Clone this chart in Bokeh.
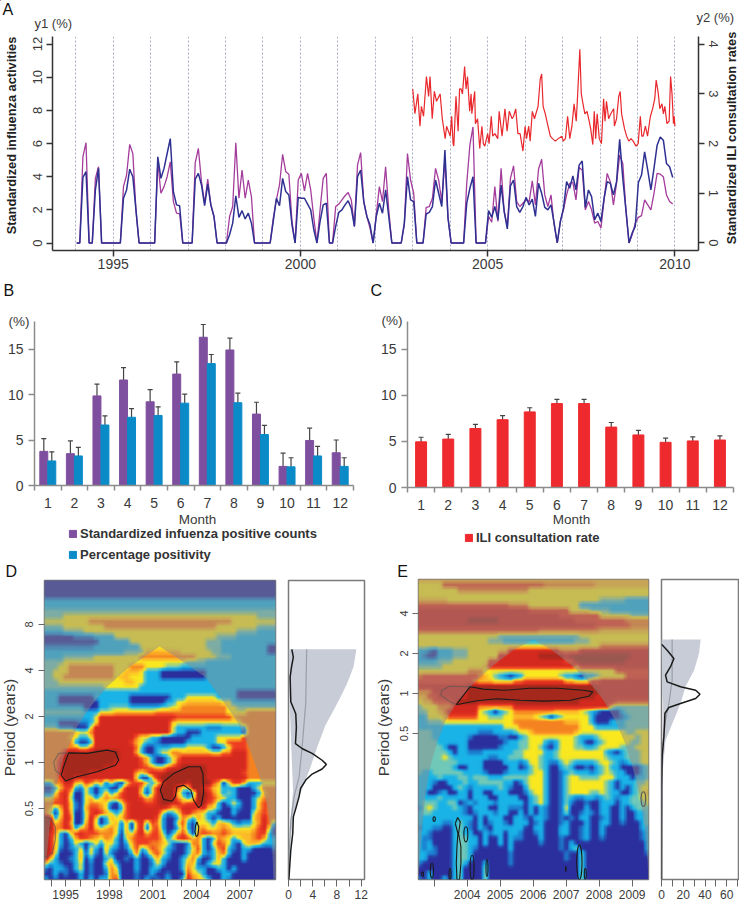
import math
import numpy as np
from bokeh.embed import file_html
from bokeh.resources import INLINE
from bokeh.layouts import column, row
from bokeh.models import (ColumnDataSource, FixedTicker, Label, Legend, LegendItem, LinearAxis, LinearColorMapper,
                          Range1d, TeeHead, Whisker)
from bokeh.plotting import figure

FONT = "Liberation Sans"

# ---------- Panel A ----------
a_years = list(range(1994, 2011))
a_purple = [
    0, 0, 5.2, 6.05, 0, 0, 3.9, 4.6, 0, 0, 0, 0,
    0, 0, 0, 3.4, 4.1, 5.95, 5.4, 2, 0, 0, 0, 0,
    0, 0, 4.9, 3.0, 3.4, 4.0, 4.9, 2.5, 1.8, 1.75, 0, 0,
    0, 0, 4.85, 5.7, 3.7, 2.4, 3.85, 2.3, 1.6, 0, 0, 0,
    0, 1.6, 2.2, 6.05, 2.7, 4.4, 2.7, 3.8, 2.8, 0, 0, 0,
    0, 0, 0, 1.5, 2.6, 3.5, 5.35, 4.3, 4.15, 1.3, 0, 3.8,
    4.2, 3.15, 4.2, 3.2, 1.5, 0, 2.0, 3.9, 4.2, 0, 0, 2.2,
    2.35, 2.6, 2.85, 3.05, 2.6, 1.0, 4.7, 5.45, 2.5, 1.6, 0.9, 0,
    1.7, 3.4, 2.5, 4.6, 2.0, 0, 0, 0, 0, 1.1, 5.4, 3.8,
    3.0, 0, 0, 0, 2.15, 2.2, 2.7, 4.5, 3.8, 2.5, 5.0, 1.5,
    0, 0, 0, 0, 0, 3.6, 5.9, 7.0, 0, 0, 0, 0,
    1.6, 1.25, 3.4, 1.3, 4.5, 1.9, 1.0, 3.9, 4.65, 2.5, 2.2, 2.4,
    2.6, 2.5, 3.75, 2.3, 4.45, 5.05, 2.9, 2.2, 2.9, 1.1, 0, 1.3,
    2.0, 2.9, 3.6, 3.65, 2.6, 4.55, 4.4, 2.0, 2.5, 2.0, 1.2, 1.3,
    0.9, 2.6, 4.2, 3.7, 2.3, 3.6, 5.3, 4.8, 2.0, 0, 0.5, 1.2,
    1.55, 1.65, 2.6, 2.3, 2.0, 3.0, 4.2, 4.15, 4.0, 2.9, 2.5, 2.35]
a_blue = [
    0, 0, 3.95, 4.3, 0, 0, 3.2, 4.5, 0, 0, 0, 0,
    0, 0, 0, 2.7, 3.2, 4.45, 4.0, 2, 0, 0, 0, 0,
    0, 0, 5.2, 3.9, 4.5, 5.4, 6.3, 3.1, 2.3, 2.25, 0, 0,
    0, 0, 3.85, 4.2, 3.5, 2.25, 3.55, 2.3, 1.6, 0, 0, 0,
    0, 0.5, 1.2, 2.85, 1.55, 1.95, 1.45, 1.8, 1.2, 0, 0, 0,
    0, 0, 0, 1.3, 2.7, 2.25, 3.9, 3.1, 2.9, 1.1, 0, 2.75,
    2.7, 2.7, 2.35, 2.0, 0.8, 0, 1.3, 2.3, 2.4, 0, 0, 1.0,
    1.85, 2.0, 2.3, 2.55, 2.1, 1.0, 4.0, 4.4, 2.5, 1.6, 1.1, 0,
    1.6, 2.4, 1.8, 3.2, 1.6, 0, 0, 0, 0, 1.2, 4.0, 2.6,
    2.5, 0, 0, 0, 1.75, 1.85, 2.2, 3.8, 3.0, 2.2, 5.6, 1.5,
    0, 0, 0, 0, 0, 2.4, 3.3, 4.0, 0, 0, 0, 0,
    1.95, 1.55, 2.2, 1.4, 3.5, 1.9, 0.85, 3.45, 3.8, 2.2, 1.85, 2.2,
    2.75, 2.3, 2.65, 1.6, 3.6, 3.0, 2.15, 2.0, 2.3, 1.2, 0, 1.3,
    2.1, 3.7, 3.3, 4.05, 3.2, 4.7, 4.95, 2.15, 3.2, 2.8, 1.4, 1.8,
    1.3, 2.7, 3.7, 3.6, 2.9, 3.7, 6.25, 3.9, 2.0, 0, 0.6, 1.0,
    3.65, 4.1, 5.5, 4.4, 3.2, 4.5, 5.9, 6.4, 6.2, 4.8, 4.6, 3.95]
red_week = [0, 3, 7, 10, 12, 15, 19, 22, 24, 27, 30, 33, 38, 41, 45, 47, 52, 54, 56, 57, 60, 63, 65, 67, 69, 72, 74,
            76, 79, 81, 82, 86, 87, 90, 93, 96, 98, 100, 104, 106, 109, 111, 114, 118, 120, 124, 128, 131, 134, 138,
            140, 143, 146, 149, 153, 156, 158, 161, 163, 166, 169, 171, 174, 177, 179, 181, 184, 187, 191, 194, 198,
            202, 207, 209, 212, 215, 218, 221, 224, 227, 229, 232, 234, 237, 239, 242, 245, 247, 250, 252, 254, 256,
            259, 262, 265, 267, 269, 272, 275, 279, 280, 283, 286, 288, 290, 294, 297, 300, 303, 306, 310, 313, 316,
            318, 320, 323, 326, 330, 333, 336, 338, 341, 343, 346, 348, 350, 353, 356, 358, 360, 362, 363, 364]
red_rate = [3.1, 2.6, 3.0, 2.35, 2.75, 2.55, 3.35, 2.95, 3.35, 2.5, 3.05, 2.85, 3.0, 2.5, 2.1, 2.35, 2.15, 2.55, 2.0,
            1.95, 2.95, 2.25, 3.1, 3.1, 3.0, 3.55, 3.1, 3.35, 2.65, 3.0, 2.6, 3.05, 2.4, 2.5, 1.9, 2.35, 2.0, 1.95,
            2.2, 2.0, 2.55, 2.15, 2.2, 2.1, 2.65, 2.15, 2.7, 2.25, 2.65, 2.5, 2.55, 2.7, 2.2, 2.2, 1.85, 2.35, 2.1,
            2.35, 2.05, 2.65, 2.5, 2.6, 2.75, 3.3, 3.4, 2.75, 2.6, 2.4, 2.15, 2.1, 2.05, 2.1, 2.15, 2.05, 2.1, 2.55,
            2.1, 2.35, 2.8, 2.45, 3.0, 3.9, 3.0, 2.75, 2.6, 2.65, 2.45, 2.3, 1.98, 2.65, 2.1, 2.6, 2.1, 2.0, 2.9,
            2.45, 2.85, 2.5, 2.6, 2.7, 2.35, 2.5, 2.95, 3.05, 2.6, 2.3, 2.15, 2.05, 2.1, 2.05, 1.95, 2.0, 2.55, 2.15,
            2.15, 2.35, 2.15, 2.55, 2.7, 2.9, 3.28, 3.0, 2.7, 2.8, 2.6, 2.75, 2.4, 2.45, 3.35, 3.0, 2.4, 2.55, 2.35]
a_ticks_y1 = [0, 2, 4, 6, 8, 10, 12]
a_ticks_y2 = [0, 1, 2, 3, 4]
a_ticks_x = [1995, 2000, 2005, 2010]

# ---------- Panels B, C ----------
months = list(range(1, 13))
b_counts = [3.75, 3.5, 9.85, 11.6, 9.2, 12.25, 16.3, 14.9, 7.85, 2.1, 4.95, 3.6]
b_counts_up = [5.15, 4.9, 11.15, 12.95, 10.55, 13.6, 17.7, 16.2, 9.15, 3.55, 6.3, 5.0]
b_counts_lo = [2.35, 2.1, 8.5, 10.25, 7.85, 10.9, 14.9, 13.55, 6.5, 0.7, 3.6, 2.2]
b_pct = [2.7, 3.25, 6.65, 7.5, 7.7, 9.05, 13.4, 9.1, 5.6, 2.05, 3.25, 2.1]
b_pct_up = [3.7, 4.2, 7.65, 8.45, 8.65, 10.05, 14.4, 10.15, 6.6, 3.05, 4.3, 3.05]
b_pct_lo = [1.7, 2.3, 5.65, 6.55, 6.75, 8.05, 12.4, 8.05, 4.6, 1.05, 2.2, 1.15]
c_ili = [4.95, 5.25, 6.4, 7.35, 8.2, 9.1, 9.1, 6.55, 5.7, 4.9, 5.05, 5.15]
c_ili_up = [5.45, 5.75, 6.85, 7.8, 8.65, 9.55, 9.55, 7.05, 6.2, 5.35, 5.5, 5.6]
c_ili_lo = [4.45, 4.75, 5.95, 6.9, 7.75, 8.65, 8.65, 6.05, 5.2, 4.45, 4.6, 4.7]
bar_ticks_y = [0, 5, 10, 15]

# ---------- Panels D, E: wavelet power classes, top row first ----------
heat_palette = ["#2b2f9e", "#1c7fd0", "#19b4e8", "#6fc8b8", "#f9e820", "#fdb92a", "#f58220", "#ee3d23", "#d62a1f",
                "#a5281c"]
d_rows = [
    "0" * 46, "0" * 46, "0" * 46, "0" * 46, "2" * 46, "2" * 46, "3" * 46,
    "3" * 4 + "4" * 38 + "3" * 4,
    "4" * 9 + "6" * 28 + "4" * 9,
    "3" * 4 + "4" * 8 + "6" * 22 + "4" * 8 + "3" * 4,
    "2" * 4 + "3" * 4 + "4" * 30 + "3" * 4 + "2" * 4,
    "0" * 6 + "1" * 4 + "2" * 4 + "4" * 20 + "3" * 4 + "2" * 8,
    "0" * 11 + "2" * 6 + "4" * 15 + "3" * 3 + "2" * 11,
    "1" * 10 + "2" * 9 + "4" * 13 + "3" * 3 + "2" * 9 + "0" * 2,
    "2" * 16 + "3" * 4 + "5" * 7 + "4" * 6 + "3" * 2 + "2" * 9 + "0" * 2,
    "2" * 4 + "3" * 6 + "4" * 9 + "6" * 8 + "6" * 3 + "4" * 4 + "3" * 3 + "2" * 9,
    "3" * 4 + "4" * 24 + "3" * 4 + "2" * 14,
    "3" * 3 + "4" * 2 + "6" * 9 + "4" * 3 + "6" * 3 + "4" * 4 + "3" * 3 + "2" * 19,
    "3" * 2 + "4" * 3 + "6" * 9 + "4" * 2 + "5" * 3 + "4" + "2" * 3 + "0" * 9 + "2" * 14,
    "3" * 2 + "4" * 2 + "6" * 10 + "4" + "5" * 2 + "4" * 3 + "2" * 3 + "0" * 9 + "2" * 14,
    "3" * 3 + "4" * 9 + "4" * 4 + "5" * 2 + "4" * 2 + "2" * 26,
    "3" * 12 + "4" * 7 + "2" * 27,
    "2" * 38 + "0" * 8,
    "2" * 3 + "0" * 7 + "2" * 7 + "0" * 8 + "2" * 3 + "4" * 6 + "2" * 4 + "0" * 8,
    "2" * 3 + "0" * 8 + "2" * 6 + "0" * 7 + "2" * 2 + "4" * 2 + "5" * 7 + "4" * 2 + "2" * 9,
    "2" * 8 + "0" * 3 + "2" * 2 + "3" * 4 + "2" * 6 + "3" * 2 + "4" * 2 + "6" * 9 + "4" * 2 + "3" * 8,
    "3" * 8 + "2" * 3 + "4" * 3 + "5" * 8 + "6" * 14 + "4" * 4 + "6" * 6,
    "2" * 10 + "4" + "8" * 15 + "7" * 11 + "5" + "6" * 8,
    "2" * 3 + "0" * 4 + "1" * 2 + "2" + "4" + "8" * 14 + "5" + "4" * 13 + "6" * 7,
    "3" * 3 + "1" * 3 + "0" * 3 + "4" + "8" * 15 + "4" + "2" * 6 + "1" * 3 + "2" * 5 + "6" * 6,
    "6" * 5 + "6" + "5" + "4" + "4" + "6" + "8" * 15 + "4" + "2" * 2 + "0" * 3 + "2" * 8 + "0" + "6" * 6,
    "6" * 5 + "5" + "4" + "2" * 2 + "4" + "8" * 8 + "6" + "4" * 2 + "2" * 2 + "0" * 6 + "2" * 5 + "4" * 5 + "7" + "6" * 6,
    "6" * 6 + "2" + "0" * 2 + "2" + "8" * 7 + "7" + "5" + "4" + "2" * 2 + "1" + "0" * 5 + "2" * 6 + "4" * 2 + "7" * 4 + "6" * 6,
    "6" * 7 + "4" + "4" + "6" + "8" * 8 + "6" + "2" + "0" * 2 + "2" * 3 + "3" * 3 + "4" * 4 + "2" + "0" * 2 + "2" + "4" + "7" * 3 + "6" * 6,
    "6" * 4 + "8" + "9" * 10 + "8" * 3 + "5" + "2" + "0" * 2 + "2" + "4" * 2 + "6" * 2 + "5" * 6 + "4" * 2 + "6" * 2 + "8" * 3 + "6" * 6,
    "6" * 3 + "7" + "9" * 11 + "8" * 4 + "6" + "5" + "2" + "0" * 2 + "2" + "4" + "6" + "8" * 13 + "6" * 6,
    "6" * 3 + "8" + "9" * 10 + "8" * 5 + "7" + "5" + "2" + "0" * 2 + "2" + "4" + "7" + "8" * 13 + "6" * 6,
    "6" * 3 + "8" + "9" * 8 + "8" * 7 + "7" * 2 + "6" + "5" * 2 + "7" + "8" * 2 + "9" * 5 + "8" * 8 + "6" * 6,
    "6" * 3 + "8" + "9" * 5 + "8" * 9 + "5" + "4" + "6" + "8" * 3 + "9" * 8 + "8" * 7 + "7" + "6" * 6,
    "6" * 3 + "7" + "9" * 2 + "8" * 12 + "4" + "0" * 2 + "4" + "8" + "9" * 9 + "8" * 8 + "6" * 6,
    "2" * 2 + "6" * 2 + "8" * 2 + "5476451410" + "4" + "7" * 3 + "4" + "2" + "4" + "8" + "9" * 4 + "8" + "9" * 4 + "7" + "5" + "0" + "4" + "7" * 2 + "5" + "2" * 3 + "4" * 4,
    "0025772142" "0220048885" "1489997449" "9875422200" "024666",
    "1147850042" "0252478884" "0489995202" "9986423200" "002566",
    "4467840045" "2465678887" "5689996424" "9987542200" "024666",
    "6677851046" "6541047888" "7789988677" "9976202420" "025766",
    "6525851057" "7640027888" "8888756888" "7854200210" "025766",
    "6404860047" "8754247888" "8884124786" "5422000200" "046766",
    "9925870048" "5025457888" "8872002642" "5420200000" "056866",
    "9956860058" "4024515068" "2762004720" "4442554212" "246862",
    "9966872568" "5456415068" "0672002620" "5644565444" "457840",
    "9862047877" "7666405478" "5774025740" "6776676555" "567720",
    "9852025776" "5465204677" "7775247875" "6202654245" "567522",
    "9852014202" "4244202577" "7665410016" "6204764104" "554222",
    "9851012404" "2052101472" "4764210024" "7202672102" "200001",
    "9840002514" "1041000260" "2574200025" "6212562002" "000000",
    "9520012502" "0024001020" "0252100246" "2002520002" "000000",
    "4221002401" "0045200020" "0142000255" "1024420000" "000000",
    "1022102401" "0026400020" "0220000264" "2200220200" "000000",
    "0020100201" "0016500010" "0200100075" "4200022000" "000000",
    "2010000202" "0226700010" "2010200286" "5420021000" "000000",
]
e_rows = [
    "5" * 46,
    "4" * 5 + "7" * 20 + "6" * 10 + "5" * 11,
    "4" * 8 + "6" * 14 + "4" * 24,
    "4" * 46,
    "5" * 6 + "4" * 30 + "3" * 5 + "2" * 5,
    "7" * 18 + "6" * 4 + "4" * 10 + "2" * 14,
    "8" * 22 + "7" * 8 + "4" * 4 + "3" * 4 + "2" * 8,
    "8" * 28 + "7" * 8 + "4" * 6 + "3" * 4,
    "8" * 10 + "9" * 6 + "8" * 15 + "7" * 10 + "6" * 5,
    "8" * 35 + "7" * 7 + "6" * 4,
    "7" * 24 + "6" * 12 + "5" * 10,
    "4" * 16 + "3" * 16 + "4" * 14,
    "4" * 14 + "3" * 3 + "2" * 14 + "3" * 3 + "4" * 12,
    "4" * 34 + "4" * 2 + "6" * 10,
    "2" * 2 + "1" + "0" + "2" * 3 + "3" * 3 + "4" * 6 + "5" * 2 + "8" * 10 + "6" * 4 + "8" * 14,
    "2100222333" + "4" * 6 + "8" * 8 + "9" * 5 + "8" + "9" * 12 + "8" * 4,
    "2" * 4 + "3" * 3 + "4" * 7 + "7" * 2 + "8" * 13 + "7" * 2 + "9" * 10 + "8" * 5,
    "3" * 5 + "4" * 8 + "5" + "8" * 17 + "6" + "8" * 14,
    "4" * 10 + "6" * 3 + "4" * 19 + "4" * 7 + "7" * 7,
    "6777777777" "776543" "21012" "4444444" "3" "221022" "3" "4444477777",
    "7" * 11 + "6" + "5" * 3 + "4" * 4 + "6" * 2 + "7" * 8 + "5" * 2 + "4" * 3 + "7" * 2 + "8" * 10,
    "8" * 10 + "9" * 25 + "8" * 11,
    "6" * 3 + "8" * 7 + "9" * 26 + "8" * 10,
    "5" * 2 + "7" * 2 + "8" * 6 + "9" * 25 + "8" * 11,
    "4" + "5" * 2 + "7" * 4 + "8" + "9" * 24 + "8" * 7 + "7" * 7,
    "3444666" + "8" * 5 + "6" * 7 + "8" * 19 + "4" + "3" * 7,
    "334456" + "8" * 6 + "4320234" + "6" * 8 + "5" * 5 + "432" + "1" + "0" * 4 + "2" + "3" * 5,
    "224445" "777777" "4433344" "5555" "4320234" "4444" "2" "00000" "1" "2" "3333",
    "22333" + "4" * 14 + "6" * 10 + "5" * 3 + "4" * 2 + "2" + "0" * 3 + "2" * 3 + "3" * 5,
    "2" * 5 + "2" * 12 + "4" * 3 + "6" * 12 + "4" * 3 + "2" * 6 + "3" * 5,
    "3332222222" "2211122223" "4456666666" "6544444444" "433444",
    "3332222222" "1000001100" "2344444444" "4322234444" "444344",
    "3333222222" "0000000122" "3344421244" "4320023444" "443344",
    "3333320022" "0000001222" "3344310244" "4332234444" "333444",
    "3333332022" "1112222223" "3444422344" "4444444210" "233344",
    "3333343222" "2222112233" "3444322344" "4444444322" "233344",
    "3333333322" "2220000222" "1244321134" "3222234432" "123344",
    "3333333200" "2220000022" "0134320023" "2001023422" "000023",
    "3223333332" "2221000122" "2234420012" "3222123432" "200023",
    "2222322233" "2333222333" "3344420013" "4433334442" "220223",
    "2221002223" "2233333220" "1344420013" "4444444320" "222334",
    "2220000232" "1222223210" "0244420013" "4444444320" "202344",
    "2200120022" "0220022200" "0134420013" "4444334322" "002345",
    "2222322222" "0222002222" "0023420013" "2112212321" "223344",
    "2333223301" "2122212222" "2023420013" "1001002220" "223334",
    "1343222321" "0222002211" "1020210014" "0002002200" "202333",
    "2332222221" "0122212200" "2020210013" "0012102200" "200223",
    "2222222222" "2020222002" "2102210010" "1022001200" "200223",
    "2222211232" "1020122102" "2201200012" "0002002200" "100023",
    "1221100232" "1021022222" "2002200022" "0012002000" "000022",
    "2210000232" "2002122022" "1001200022" "0012002000" "000012",
    "2110000233" "2202002021" "1000200010" "0012001000" "000012",
    "2120000233" "2202002020" "0000100010" "2000000000" "000002",
    "2121000233" "2100000020" "0000000010" "2300000000" "000002",
    "2211000233" "2000000010" "0000000001" "0030000000" "000001",
    "2200000233" "2000000010" "0000000001" "0030000000" "000000",
    "1000000232" "0002000010" "0000000000" "0030000000" "000000",
    "0000000230" "0003000000" "0000000000" "0030000000" "000000",
    "0020000230" "0003000000" "0000000000" "0030000000" "000000",
    "1020020230" "0003000000" "0000000000" "0030000000" "000000",
]

# cone of influence, (year, log2 period), left foot to apex to right foot
d_cone_x = [1993.55, 1993.72, 1993.94, 1994.29, 1994.52, 1994.86, 1995.2, 1995.78, 1996.7, 1997.84, 1999.22, 2001.47,
            2002.89, 2004.61, 2005.87, 2006.9, 2007.7, 2008.28, 2008.85, 2009.2, 2009.31]
d_cone_y = [-2.54, -1.97, -1.25, -0.6, -0.31, 0.12, 0.34, 0.77, 1.21, 1.64, 2.04, 2.52,
            2.23, 1.86, 1.32, 0.85, 0.27, -0.24, -0.89, -1.61, -2.54]
e_cone_x = [2002.53, 2002.56, 2002.63, 2002.73, 2002.88, 2003.08, 2003.33, 2003.69, 2004.19, 2004.8, 2005.4, 2006.01,
            2006.57, 2007.22, 2007.73, 2008.13, 2008.48, 2008.79, 2009.04, 2009.24, 2009.39, 2009.47, 2009.49]
e_cone_y = [-4.65, -4.25, -3.42, -2.58, -1.83, -1.25, -0.71, -0.21, 0.25, 0.71, 1.08, 1.35,
            1.08, 0.67, 0.25, -0.17, -0.67, -1.25, -1.92, -2.58, -3.42, -4.25, -4.65]

# significance contours
d_sig_x = [[1995.2, 1996.47, 1997.84, 1998.42, 1998.65, 1998.42, 1997.16, 1995.78, 1994.98, 1994.7, 1994.86, 1995.2],
           [2001.51, 2001.74, 2002.43, 2003.46, 2004.27, 2004.45, 2004.5, 2004.33, 2004.15, 2003.81, 2003.62, 2003.12,
            2002.66, 2002.55, 2002.32, 2001.74, 2001.51],
           [2004.04, 2004.17, 2004.1, 2003.99, 2003.9, 2003.95, 2004.04]]
d_sig_y = [[0.21, 0.2, 0.27, 0.23, 0.05, -0.06, -0.2, -0.31, -0.4, -0.27, -0.09, 0.21],
           [-0.6, -0.42, -0.24, -0.09, -0.09, -0.24, -0.67, -0.93, -0.98, -0.82, -0.6, -0.49,
            -0.53, -0.74, -0.84, -0.8, -0.6],
           [-1.29, -1.4, -1.58, -1.61, -1.5, -1.36, -1.29]]
d_sig_out_x = [[1995.2, 1994.52, 1994.17, 1994.29, 1994.7], [1993.55, 1993.94, 1994.29, 1994.29, 1994.06, 1993.72, 1993.55]]
d_sig_out_y = [[0.21, 0.2, 0.01, -0.17, -0.27], [-1.18, -1.21, -1.4, -1.68, -1.97, -2.05, -2.03]]
e_sig_x = [[2003.67, 2004.09, 2004.49, 2005.1, 2005.91, 2006.72, 2007.53, 2007.81, 2007.68, 2007.12, 2006.31, 2005.61,
            2004.9, 2004.29, 2003.67],
           [2003.64, 2003.71, 2003.79, 2003.74, 2003.81, 2003.81, 2003.77, 2003.69, 2003.67, 2003.69, 2003.72, 2003.64]]
e_sig_y = [[-0.28, 0.17, 0.11, 0.08, 0.13, 0.13, 0.08, 0.04, -0.07, -0.17, -0.19, -0.17, -0.13, -0.18, -0.28],
           [-3.25, -3.1, -3.21, -3.5, -3.83, -4.25, -4.65, -4.65, -4.25, -3.83, -3.5, -3.25]]
e_sig_out_x = [2004.09, 2003.48, 2003.23, 2003.2, 2003.43, 2003.67]
e_sig_out_y = [0.17, 0.18, 0.08, -0.04, -0.18, -0.28]
e_blob_x = [2003.96, 2003.0, 2004.15, 2002.93, 2004.6, 2007.4, 2007.58, 2003.48, 2002.65, 2006.99]
e_blob_y = [-3.52, -3.14, -4.35, -4.43, -4.36, -4.22, -4.51, -4.51, -4.52, -4.39]
e_blob_w = [0.12, 0.07, 0.12, 0.1, 0.06, 0.16, 0.06, 0.06, 0.06, 0.02]
e_blob_h = [0.38, 0.12, 0.61, 0.37, 0.42, 0.86, 0.27, 0.27, 0.12, 0.13]

# global spectra
d_power = [0.55, 0.8, 0.5, 0.27, 0.38, 1.2, 1.3, 1.15, 2.3, 3.9, 5.55, 6.25, 5.55, 3.9, 2.85, 2.0, 1.75, 1.2, 0.8, 0.7,
           0.38, 0.16, 0.05]
d_power_p = [2.46, 2.29, 2.08, 1.86, 1.32, 1.06, 0.77, 0.41, 0.3, 0.2, 0.05, -0.04, -0.14, -0.25, -0.38, -0.56, -0.74,
             -1, -1.18, -1.54, -1.9, -2.34, -2.54]
d_ci_hi = [11.2, 10.75, 9.66, 8.57, 7.47, 6.1, 4.75, 3.65, 2.84, 1.75, 0.93, 0.38, 0.11, 0]
d_ci_hi_p = [2.46, 2.08, 1.71, 1.42, 1.14, 0.81, 0.34, -0.09, -0.38, -0.74, -1.11, -1.61, -2.34, -2.54]
d_ci_lo = [0.02, 0.1, 0.3, 0.55, 0.75, 0.5, 0.2, 0]
d_ci_lo_p = [2.46, 1.35, 0.9, 0.02, -0.6, -1, -1.9, -2.54]
d_mean = [3.0, 2.84, 2.3, 1.75, 0.93, 0.38, 0.11, 0]
d_mean_p = [2.46, 1.28, 0.41, -0.31, -0.74, -1.25, -1.97, -2.54]
e_power = [0, 5.2, 11.4, 8.3, 3.7, 5.2, 17.5, 31.4, 35.4, 31.4, 17.5, 6.8, 3.1, 2.8, 2.2, 0.6, 0.1, 0]
e_power_p = [1.23, 1.08, 0.875, 0.67, 0.46, 0.29, 0.17, 0.08, -0.02, -0.125, -0.25, -0.35, -0.5, -0.75, -1.08, -1.58,
             -2.33, -4.65]
e_ci_hi = [36, 34.5, 30, 22, 17.5, 10, 3.7, 1.2, 0]
e_ci_hi_p = [1.35, 1, 0.58, 0.17, -0.25, -0.75, -1.17, -1.92, -4.65]
e_ci_lo = [0, 0.5, 1.5, 1.5, 1, 0.3, 0]
e_ci_lo_p = [1.35, 0, -0.25, -0.75, -1.17, -2, -4.65]
e_mean = [9.8, 9.8, 6.8, 3.7, 1.2, 0.6, 0]
e_mean_p = [1.35, 0.33, -0.25, -0.67, -1.25, -1.92, -4.65]

period_ticks_d = {-1: "0.5", 0: "1", 1: "2", 2: "4", 3: "8"}
period_ticks_e = {-1: "0.5", 0: "1", 1: "2", 2: "4"}
d_year_ticks = list(range(1994, 2009))
d_year_labels = [1995, 1998, 2001, 2004, 2007]
e_year_ticks = list(range(2003, 2010))
e_year_labels = [2004, 2005, 2006, 2007, 2008, 2009]

# ---------- helpers ----------
TXT = "#3a3a3a"
W, H = 739, 901

# transparent sheet over the whole page that carries the free texts (annotations are clipped to a figure's frame)
sheet = figure(width=W, height=H, x_range=Range1d(0, W), y_range=Range1d(H, 0), output_backend="svg",
               toolbar_location=None, tools="", min_border=0, background_fill_alpha=0, border_fill_alpha=0,
               margin=(-H, 0, 0, 0), frame_align=False)
sheet.grid.visible = False
sheet.axis.visible = False
sheet.outline_line_color = None


def txt(x, y, s, size, bold=False, color=TXT, angle=0, align="left"):
    sheet.add_layout(Label(x=x, y=y, x_units="canvas", y_units="canvas", text=s, text_font=FONT,
                           text_font_size=f"{size}px", text_font_style="bold" if bold else "normal", text_color=color,
                           angle=angle, text_align=align, text_baseline="middle"))


def fig(w, h, left, right, top, bottom, xr, yr):
    p = figure(width=w, height=h, x_range=xr, y_range=yr, output_backend="svg", toolbar_location=None,
               min_border_left=left, min_border_right=right, min_border_top=top, min_border_bottom=bottom,
               tools="", background_fill_color="white", border_fill_color="white", frame_align=False)
    p.grid.visible = False
    p.outline_line_color = None
    return p


def style_axis(ax, color="#444444", size=12, tick=6, standoff=4, width=1):
    ax.axis_line_color = color
    ax.axis_line_width = width
    ax.major_tick_line_color = color
    ax.major_tick_line_width = width
    ax.major_tick_out = tick
    ax.major_tick_in = 0
    ax.minor_tick_line_color = None
    ax.major_label_text_font = FONT
    ax.major_label_text_font_size = f"{size}px"
    ax.major_label_text_color = TXT
    ax.major_label_standoff = standoff


# ---------- A ----------
pa = fig(739, 275, 52, 41, 36, 25, Range1d(1993.38, 2010.63), Range1d(-0.452, 12.455))
pa.extra_y_ranges = {"y2": Range1d(-0.151, 4.155)}
style_axis(pa.xaxis[0], "#333333", 14, 6, 2, 1.5)
pa.xaxis[0].ticker = FixedTicker(ticks=a_ticks_x)
style_axis(pa.yaxis[0], "#333333", 13, 6, 4, 1.5)
pa.yaxis[0].ticker = FixedTicker(ticks=a_ticks_y1)
pa.yaxis[0].major_label_orientation = "vertical"
y2 = LinearAxis(y_range_name="y2", ticker=FixedTicker(ticks=a_ticks_y2))
style_axis(y2, "#333333", 13, 6, 4, 1.5)
y2.major_label_orientation = "vertical"
pa.add_layout(y2, "right")
pa.xgrid.visible = True
pa.xgrid.ticker = FixedTicker(ticks=a_years)
pa.xgrid.grid_line_color = "#aab0c4"
pa.xgrid.grid_line_dash = "2 2"
pa.xgrid.grid_line_width = 1
a_x = [1994 + (i + 0.3) / 12 for i in range(len(a_blue))]
pa.line(a_x, a_purple, line_color="#a43c9c", line_width=1.3)
pa.line(a_x, a_blue, line_color="#2f3192", line_width=1.5)
pa.line([2003 + w / 52 for w in red_week], red_rate, y_range_name="y2", line_color="#e8282c", line_width=1.2)
txt(2, 9, "A", 16, color="#111111")
txt(34, 23, "y1 (%)", 13)
txt(696, 17, "y2 (%)", 13)
txt(10.5, 135, "Standardized influenza activities", 12.8, True, "#222222", math.pi / 2, "center")
txt(730.5, 137.5, "Standardized ILI consultation rates", 12.8, True, "#222222", math.pi / 2, "center")


# ---------- B, C ----------
def bar_axes(p):
    style_axis(p.yaxis[0], "#8c8c8c", 14, 6, 5, 1.5)
    p.yaxis[0].ticker = FixedTicker(ticks=bar_ticks_y)
    style_axis(p.xaxis[0], "#8c8c8c", 14, 0, 7, 1.5)
    p.xaxis[0].ticker = FixedTicker(ticks=months, minor_ticks=[m + 0.5 for m in [0] + months])
    p.xaxis[0].minor_tick_line_color = "#8c8c8c"
    p.xaxis[0].minor_tick_out = 5
    p.xaxis[0].minor_tick_in = 0
    p.xaxis[0].minor_tick_line_width = 1.5


def whisk(p, x, up, lo):
    src = ColumnDataSource(dict(x=x, up=up, lo=lo))
    p.add_layout(Whisker(base="x", upper="up", lower="lo", source=src, line_color="#444444", line_width=1.2,
                         upper_head=TeeHead(size=5, line_color="#444444", line_width=1.2),
                         lower_head=TeeHead(size=5, line_color="#444444", line_width=1.2)))


def legend(items, x, y, size=13, glyph=9, spacing=6):
    # legend keys for the bars of the figure below; the keyed glyph itself lies off this sheet's view
    rs = [(s, sheet.vbar(x=[-100], top=[-100], bottom=[-110], width=1, color=c)) for s, c in items]
    lg = Legend(items=[LegendItem(label=s, renderers=[r]) for s, r in rs], location=(x, y), margin=0, padding=0,
                border_line_color=None, background_fill_color=None, background_fill_alpha=0, glyph_width=glyph,
                glyph_height=glyph, label_text_font=FONT, label_text_font_size=f"{size}px",
                label_text_font_style="bold", label_text_color="#333333", label_standoff=3, spacing=spacing,
                label_height=10)
    sheet.add_layout(lg, "center")


pb = fig(370, 285, 34, 17, 46, 75, Range1d(0.5, 12.5), Range1d(0, 18.03))
bar_axes(pb)
pb.vbar([m - 0.15 for m in months], 0.3, b_counts, color="#7f4f9f")
pb.vbar([m + 0.15 for m in months], 0.3, b_pct, color="#0a8bc8")
whisk(pb, [m - 0.15 for m in months], b_counts_up, b_counts_lo)
whisk(pb, [m + 0.15 for m in months], b_pct_up, b_pct_lo)
legend([("Standardized infuenza positive counts", "#7f4f9f"), ("Percentage positivity", "#0a8bc8")], 68, 339)
txt(8, 321, "(%)", 13.5)
txt(3, 290, "B", 16, color="#111111")
txt(197, 519, "Month", 13.5, align="center")

pc = fig(369, 285, 37, 6, 46, 73, Range1d(0.5, 12.5), Range1d(0, 18.0))
bar_axes(pc)
pc.vbar(months, 0.404, c_ili, color="#ee2a2e")
whisk(pc, months, c_ili_up, c_ili_lo)
legend([("ILI consultation rate", "#ee2a2e")], 464, 356)
txt(381, 320, "(%)", 13.5)
txt(370, 290, "C", 16, color="#111111")
txt(571, 519, "Month", 13.5, align="center")


# ---------- D, E ----------
def display_grid(rows, factor=4):
    """Class table -> finer display raster, top row first turned to bottom first."""
    g = np.array([[int(c) for c in r[:46].ljust(46, r[-1])] for r in rows], dtype=float)[::-1]
    ny, nx = g.shape
    ys, xs = np.linspace(0, ny - 1, ny * factor), np.linspace(0, nx - 1, nx * factor)
    g = np.array([np.interp(ys, np.arange(ny), g[:, j]) for j in range(nx)]).T
    g = np.array([np.interp(xs, np.arange(nx), g[i, :]) for i in range(g.shape[0])])
    return g


def smooth_palette(colors, n=160):
    rgb = np.array([[int(c[i:i + 2], 16) for i in (1, 3, 5)] for c in colors], dtype=float)
    t = np.linspace(0, len(colors) - 1, n)
    out = np.array([np.interp(t, np.arange(len(colors)), rgb[:, k]) for k in range(3)]).T
    return ["#%02x%02x%02x" % tuple(int(v) for v in c) for c in out]


def heat(w, left, right, top, xr, yr, rows, cone_x, cone_y, ticks, labels, pticks):
    p = fig(w, 341, left, right, top, 22, Range1d(*xr), Range1d(*yr))
    mapper = LinearColorMapper(palette=smooth_palette(heat_palette), low=0, high=9)
    p.image(image=[display_grid(rows)], x=xr[0], y=yr[0], dw=xr[1] - xr[0], dh=yr[1] - yr[0], color_mapper=mapper)
    mask_x = [xr[0], xr[0], xr[1], xr[1]] + cone_x[::-1]
    mask_y = [yr[0], yr[1], yr[1], yr[0]] + cone_y[::-1]
    p.patch(mask_x, mask_y, fill_color="#8c8c8c", fill_alpha=0.47, line_color=None)
    style_axis(p.xaxis[0], "#666666", 12, 7, 3)
    p.xaxis[0].axis_line_color = None
    p.xaxis[0].ticker = FixedTicker(ticks=ticks)
    p.xaxis[0].major_label_overrides = {t: (str(t) if t in labels else "") for t in ticks}
    style_axis(p.yaxis[0], "#666666", 11, 6, 5)
    p.yaxis[0].axis_line_color = None
    p.yaxis[0].ticker = FixedTicker(ticks=list(pticks))
    p.yaxis[0].major_label_overrides = pticks
    p.yaxis[0].major_label_orientation = "vertical"
    p.outline_line_color = "#7a7a7a"
    p.outline_line_width = 1.5
    return p


def side(w, left, right, top, xr, yr, hi, hi_p, lo, lo_p, mean, mean_p, power, power_p, ticks, labels):
    p = fig(w, 341, left, right, top, 22, Range1d(*xr), Range1d(*yr))
    p.patch(hi + lo[::-1], hi_p + lo_p[::-1], fill_color="#c8ccd6", line_color=None)
    p.line(mean, mean_p, line_color="#9a9ea8", line_width=1.2)
    p.line(power, power_p, line_color="#1a1a1a", line_width=1.5)
    style_axis(p.xaxis[0], "#666666", 12, 7, 3)
    p.xaxis[0].axis_line_color = None
    p.xaxis[0].ticker = FixedTicker(ticks=ticks)
    p.xaxis[0].major_label_overrides = {t: (str(t) if t in labels else "") for t in ticks}
    p.yaxis.visible = False
    p.outline_line_color = "#7a7a7a"
    p.outline_line_width = 1.5
    return p


pd_ = heat(281, 44, 6, 20, (1993.54, 2009.45), (-2.54, 3.954), d_rows, d_cone_x, d_cone_y, d_year_ticks, d_year_labels,
           period_ticks_d)
pd_.multi_line(d_sig_x, d_sig_y, line_color="#1a1a1a", line_width=1.1)
pd_.multi_line(d_sig_out_x, d_sig_out_y, line_color="#555555", line_alpha=0.6, line_width=1.1)
txt(5, 571, "D", 16, color="#111111")
txt(9, 727, "Period (years)", 15.5, False, "#3a3a3a", math.pi / 2, "center")

ps_d = side(89, 7, 6, 20, (0, 12.55), (-2.54, 3.954), d_ci_hi, d_ci_hi_p, d_ci_lo, d_ci_lo_p, d_mean, d_mean_p, d_power,
            d_power_p, [0, 2, 4, 6, 8, 10, 12], [0, 4, 8, 12])

pe = heat(285, 48, 7, 19, (2002.525, 2009.495), (-4.65, 2.85), e_rows, e_cone_x, e_cone_y, e_year_ticks, e_year_labels,
          period_ticks_e)
pe.multi_line(e_sig_x, e_sig_y, line_color="#1a1a1a", line_width=1.1)
pe.line(e_sig_out_x, e_sig_out_y, line_color="#555555", line_alpha=0.6, line_width=1.1)
pe.ellipse(e_blob_x, e_blob_y, width=e_blob_w, height=e_blob_h, fill_color=None, line_color="#1a1a1a", line_width=1.1)
pe.ellipse([2009.34], [-2.64], width=[0.14], height=[0.37], fill_color=None, line_color="#555555", line_width=1.1)
txt(402, 571, "E", 16, color="#111111", align="center")
txt(383, 727, "Period (years)", 15.5, False, "#3a3a3a", math.pi / 2, "center")

ps_e = side(84, 6, 1, 19, (0, 70.8), (-4.65, 2.85), e_ci_hi, e_ci_hi_p, e_ci_lo, e_ci_lo_p, e_mean, e_mean_p, e_power,
            e_power_p, [0, 10, 20, 30, 40, 50, 60, 70], [0, 20, 40, 60])

page = column(pa, row(pb, pc, spacing=0), row(pd_, ps_d, pe, ps_e, spacing=0), sheet, spacing=0)
open("out.html", "w").write(file_html(page, INLINE))
